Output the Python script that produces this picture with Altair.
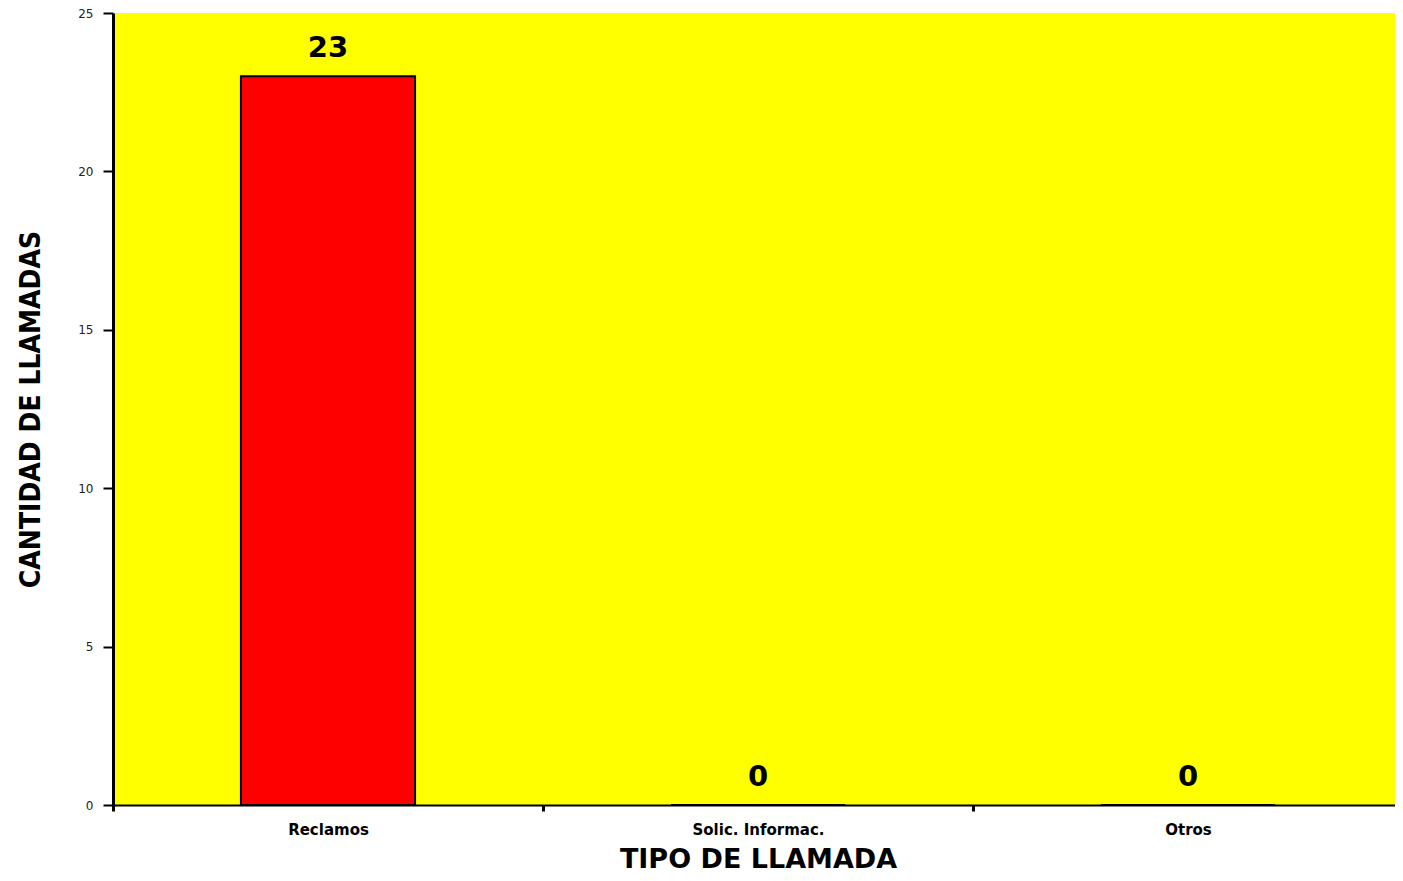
import altair as alt
import pandas as pd

categorias = ["Reclamos", "Solic. Informac.", "Otros"]
cantidades = [23, 0, 0]

df = pd.DataFrame({"tipo": categorias, "cantidad": cantidades})

x_enc = alt.X(
    "tipo:N",
    sort=categorias,
    scale=alt.Scale(paddingInner=0, paddingOuter=0, range=[0, 1290]),
    axis=alt.Axis(
        title="TIPO DE LLAMADA",
        titleFont="DejaVu Sans",
        titleFontSize=27,
        titleFontWeight="bold",
        titleColor="black",
        titleBaseline="alphabetic",
        titleY=62,
        labelAngle=0,
        labelFont="DejaVu Sans",
        labelFontSize=15,
        labelFontWeight="bold",
        labelColor="black",
        labelPadding=11,
        tickBand="extent",
        tickColor="black",
        tickSize=6,
        tickWidth=3,
        domainColor="black",
        domainWidth=2,
    ),
)

y_enc = alt.Y(
    "cantidad:Q",
    scale=alt.Scale(domain=[0, 25], nice=False),
    axis=alt.Axis(
        title="CANTIDAD DE LLAMADAS",
        titleFont="DejaVu Sans Condensed, Liberation Sans",
        titleFontSize=28,
        titleFontWeight="bold",
        titleColor="black",
        titlePadding=32,
        values=[0, 5, 10, 15, 20, 25],
        labelFont="DejaVu Sans",
        labelFontSize=12,
        labelColor="#222222",
        labelPadding=10,
        tickColor="black",
        tickSize=10,
        tickWidth=2,
        domainColor="black",
        domainWidth=3,
        grid=False,
    ),
)

bars = alt.Chart(df).mark_bar(
    color="#FF0000", stroke="black", strokeWidth=2, width=alt.RelativeBandSize(0.405)
).encode(x=x_enc, y=y_enc)

labels = alt.Chart(df).mark_text(
    font="DejaVu Sans", fontSize=29, fontWeight="bold", color="black", dy=-19, baseline="alphabetic"
).encode(x=alt.X("tipo:N", sort=categorias), y="cantidad:Q", text="cantidad:Q")

chart = (
    alt.layer(bars, labels)
    .properties(
        width=1282,
        height=792,
        autosize=alt.AutoSizeParams(type="none"),
        padding={"left": 105, "top": 5, "right": 0, "bottom": 68},
        background="white",
    )
    .configure_view(fill="#FFFF00", stroke=None)
)

chart.save("out.html", embed_options={"renderer": "svg", "actions": False})
